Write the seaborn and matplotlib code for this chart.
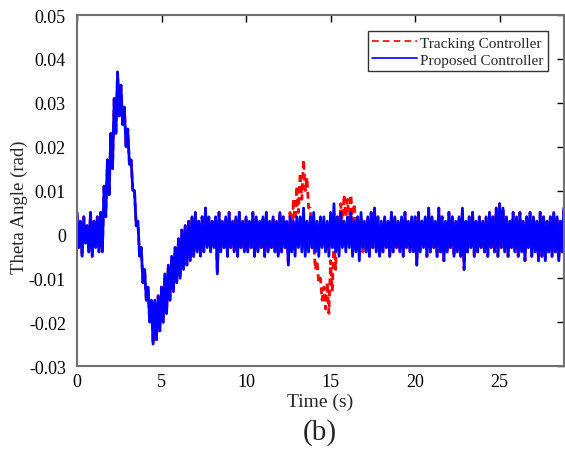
import numpy as np
import pandas as pd
import matplotlib
matplotlib.use("Agg")
import matplotlib.pyplot as plt
import seaborn as sns

# Sampled envelope of the pitch response (rad): upper and lower excursion
# of the measured signal every 0.2 s, starting at t = 0 s.
step = 0.2
proposed_hi = [
    0.005, 0.003, 0.004, 0.002, 0.005, 0.003, 0.004, 0.005, 0.011, 0.017,
    0.023, 0.031, 0.037, 0.034, 0.029, 0.024, 0.017, 0.010, 0.003, -0.003,
    -0.008, -0.012, -0.015, -0.015, -0.014, -0.012, -0.009, -0.007, -0.005, -0.003,
    -0.001, 0.001, 0.002, 0.003, 0.004, 0.005, 0.003, 0.004, 0.006, 0.004,
    0.003, 0.004, 0.005, 0.003, 0.004, 0.005, 0.003, 0.004, 0.005, 0.003,
    0.004, 0.003, 0.005, 0.004, 0.003, 0.004, 0.005, 0.003, 0.004, 0.003,
    0.005, 0.004, 0.003, 0.004, 0.003, 0.004, 0.004, 0.006, 0.003, 0.004,
    0.005, 0.003, 0.004, 0.004, 0.003, 0.005, 0.007, 0.004, 0.005, 0.003,
    0.004, 0.005, 0.003, 0.004, 0.005, 0.003, 0.004, 0.005, 0.006, 0.004,
    0.003, 0.004, 0.003, 0.005, 0.004, 0.003, 0.004, 0.005, 0.003, 0.004,
    0.004, 0.005, 0.003, 0.004, 0.006, 0.004, 0.003, 0.006, 0.004, 0.003,
    0.005, 0.004, 0.003, 0.004, 0.006, 0.003, 0.004, 0.005, 0.003, 0.004,
    0.003, 0.004, 0.005, 0.004, 0.006, 0.007, 0.006, 0.004, 0.003, 0.005,
    0.004, 0.005, 0.003, 0.004, 0.005, 0.004, 0.003, 0.005, 0.004, 0.003,
    0.004, 0.005, 0.004, 0.003, 0.006,
]
proposed_lo = [
    -0.003, -0.005, -0.002, -0.004, -0.005, -0.003, -0.004, -0.004, 0.004, 0.009,
    0.015, 0.023, 0.027, 0.025, 0.020, 0.016, 0.010, 0.002, -0.005, -0.011,
    -0.015, -0.020, -0.025, -0.024, -0.022, -0.020, -0.018, -0.015, -0.013, -0.011,
    -0.010, -0.008, -0.007, -0.006, -0.005, -0.004, -0.005, -0.004, -0.003, -0.004,
    -0.003, -0.009, -0.004, -0.003, -0.005, -0.003, -0.004, -0.005, -0.003, -0.004,
    -0.004, -0.003, -0.005, -0.004, -0.003, -0.005, -0.004, -0.003, -0.004, -0.005,
    -0.004, -0.003, -0.007, -0.004, -0.005, -0.003, -0.004, -0.005, -0.004, -0.003,
    -0.004, -0.005, -0.003, -0.004, -0.005, -0.003, -0.004, -0.005, -0.003, -0.004,
    -0.003, -0.005, -0.004, -0.006, -0.003, -0.004, -0.005, -0.003, -0.004, -0.005,
    -0.004, -0.003, -0.005, -0.004, -0.003, -0.004, -0.005, -0.003, -0.004, -0.004,
    -0.007, -0.004, -0.003, -0.005, -0.004, -0.003, -0.005, -0.004, -0.006, -0.004,
    -0.003, -0.005, -0.004, -0.005, -0.008, -0.004, -0.003, -0.005, -0.004, -0.003,
    -0.004, -0.005, -0.003, -0.004, -0.005, -0.003, -0.004, -0.005, -0.003, -0.004,
    -0.005, -0.004, -0.006, -0.003, -0.005, -0.004, -0.006, -0.005, -0.006, -0.004,
    -0.005, -0.004, -0.006, -0.004, -0.005,
]

# The tracking controller follows the same response except during the
# disturbance between 12.6 s and 16.8 s.
tracking_start = 12.6
tracking_hi = [
    0.005, 0.008, 0.011, 0.014, 0.017, 0.013, 0.006, -0.002, -0.006, -0.010,
    -0.012, -0.011, -0.006, -0.001, 0.004, 0.007, 0.009, 0.008, 0.009, 0.007,
    0.004, 0.004,
]
tracking_lo = [
    -0.003, 0.002, 0.005, 0.008, 0.010, 0.006, -0.003, -0.008, -0.011, -0.015,
    -0.017, -0.018, -0.013, -0.008, -0.002, 0.002, 0.004, 0.003, 0.003, 0.001,
    -0.003, -0.004,
]

series_names = ["Tracking Controller", "Proposed Controller"]
x_ticks = [0, 5, 10, 15, 20, 25]
y_ticks = [-0.03, -0.02, -0.01, 0.0, 0.01, 0.02, 0.03, 0.04, 0.05]
y_tick_labels = ["-0.03", "-0.02", "-0.01", "0", "0.01", "0.02", "0.03", "0.04", "0.05"]


def zigzag(hi, lo):
    """Alternate between the upper and lower excursion of each sample."""
    t = step * np.arange(len(hi))
    times = np.column_stack([t, t + step / 2]).ravel()
    vals = np.column_stack([hi, lo]).ravel()
    return times, vals


track_hi_full = list(proposed_hi)
track_lo_full = list(proposed_lo)
i0 = int(round(tracking_start / step))
track_hi_full[i0:i0 + len(tracking_hi)] = tracking_hi
track_lo_full[i0:i0 + len(tracking_lo)] = tracking_lo

frames = []
for name, (hi, lo) in zip(series_names, [(track_hi_full, track_lo_full),
                                          (proposed_hi, proposed_lo)]):
    t, v = zigzag(hi, lo)
    frames.append(pd.DataFrame({"time": t, "angle": v, "controller": name}))
df = pd.concat(frames, ignore_index=True)

sns.set_style("white")
plt.rcParams["font.family"] = ["Liberation Serif", "DejaVu Serif"]

fig = plt.figure(figsize=(5.65, 4.52), dpi=100)
ax = fig.add_axes([0.1363, 0.188, 0.8617, 0.7766])

sns.lineplot(
    data=df, x="time", y="angle", hue="controller", style="controller",
    hue_order=series_names, style_order=series_names,
    palette={"Tracking Controller": "#ff0000", "Proposed Controller": "#0000ff"},
    dashes={"Tracking Controller": (2.5, 1.5), "Proposed Controller": ""},
    estimator=None, sort=False, linewidth=2.0, ax=ax,
)

ax.set_xlim(0, 28.8)
ax.set_ylim(-0.03, 0.05)
ax.set_xticks(x_ticks)
ax.set_xticklabels([str(x) for x in x_ticks])
ax.set_yticks(y_ticks)
ax.set_yticklabels(y_tick_labels)
ax.tick_params(direction="in", length=5, width=1.0, colors="black",
               labelsize=13, top=True, right=True)
ax.tick_params(axis="y", pad=8)
ax.tick_params(axis="x", pad=5)
for sp in ax.spines.values():
    sp.set_visible(True)
    sp.set_color("#707070")
    sp.set_linewidth(1.5)

ax.set_xlabel("Time (s)", fontsize=14, labelpad=2)
ax.set_ylabel("Theta Angle (rad)", fontsize=13.5)
ax.yaxis.set_label_coords(-0.1, 0.456)

handles, labels = ax.get_legend_handles_labels()
leg = ax.legend(handles, labels, loc="upper right", bbox_to_anchor=(0.968, 0.953),
                fontsize=11, frameon=True, fancybox=False, edgecolor="black",
                handlelength=2.9, handletextpad=0.25, borderpad=0.3,
                labelspacing=0.2, borderaxespad=0.0)
leg.get_frame().set_linewidth(1.0)
for line in leg.get_lines():
    line.set_linewidth(1.2)
    if line.get_linestyle() != "-":
        line.set_dashes((4, 2.5))

fig.text(0.566, 0.043, "(b)", fontsize=21, ha="center", va="center")

fig.savefig("out.png", dpi=100, facecolor="white")
